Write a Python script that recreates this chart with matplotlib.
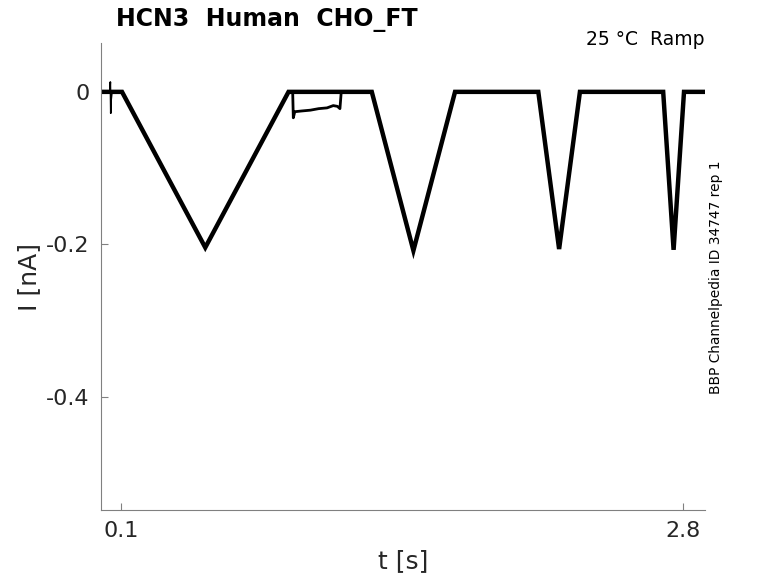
import numpy as np
import matplotlib
matplotlib.use("Agg")
import matplotlib.pyplot as plt

# ramp protocol response (vertices of the current trace)
t_main = [0.0, 0.105, 0.505, 0.905, 1.305, 1.505,
          1.705, 2.105, 2.205, 2.305, 2.705, 2.755, 2.805, 2.905]
i_main = [0.0, 0.0, -0.204, 0.0, 0.0, -0.208,
          0.0, 0.0, -0.206, 0.0, 0.0, -0.207, 0.0, 0.0]

# small artefact near the start of the sweep
t_spike = [0.046, 0.049, 0.051, 0.053, 0.057]
i_spike = [0.0, 0.013, -0.028, -0.01, 0.0]

# second sweep that sits slightly below baseline after the first ramp
t_sweep2 = [0.925, 0.928, 0.935, 0.97, 1.01, 1.05, 1.09, 1.12, 1.14, 1.152, 1.158]
i_sweep2 = [0.0, -0.034, -0.026, -0.025, -0.024, -0.022, -0.021, -0.018, -0.019, -0.022, -0.001]

xticks = [0.1, 2.8]
xticklabels = ["0.1", "2.8"]
yticks = [-0.4, -0.2, 0.0]
yticklabels = ["-0.4", "-0.2", "0"]

grey = "#262626"

fig = plt.figure(figsize=(7.78, 5.83), dpi=100)
ax = fig.add_axes([0.1298, 0.1252, 0.7764, 0.801])

ax.plot(t_main, i_main, color="black", lw=3.2, solid_joinstyle="miter")
ax.plot(t_spike, i_spike, color="black", lw=1.2)
ax.plot(t_sweep2, i_sweep2, color="black", lw=2.0)

ax.set_xlim(0.004, 2.906)
ax.set_ylim(-0.548, 0.064)

ax.set_xticks(xticks)
ax.set_xticklabels(xticklabels)
ax.set_yticks(yticks)
ax.set_yticklabels(yticklabels)

for s in ["top", "right"]:
    ax.spines[s].set_visible(False)
for s in ["left", "bottom"]:
    ax.spines[s].set_color("#808080")
    ax.spines[s].set_linewidth(0.8)

ax.tick_params(direction="in", length=5, width=0.8, color="#808080",
               labelsize=16, labelcolor=grey, pad=8)

ax.set_xlabel("t [s]", fontsize=18, color=grey, labelpad=6)
ax.set_ylabel("I [nA]", fontsize=18, color=grey, labelpad=4)

fig.text(0.149, 0.955, "HCN3  Human  CHO_FT", fontsize=17, fontweight="bold",
         ha="left", va="baseline")
fig.text(0.905, 0.922, "25 °C  Ramp", fontsize=13.5, ha="right", va="baseline")
fig.text(0.92, 0.524, "BBP Channelpedia ID 34747 rep 1", fontsize=9.9,
         rotation=90, ha="center", va="center")

fig.savefig("out.png", dpi=100)
